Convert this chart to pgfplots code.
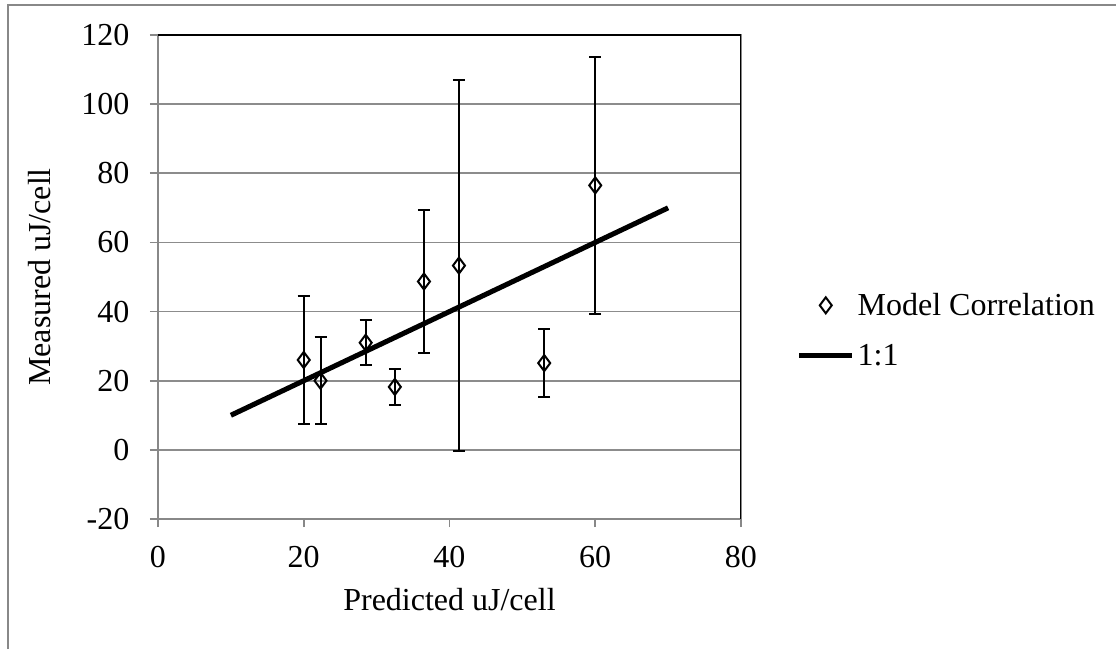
\documentclass[border=0pt]{standalone}
\usepackage{pgfplots}
\pgfplotsset{compat=1.18}
\usepackage{fontspec}
\setmainfont{Liberation Serif}
\definecolor{axgray}{HTML}{888888}
\definecolor{gridgray}{HTML}{8C8C8C}
\pgfplotsset{
  diamleg/.style={legend image code/.code={\draw[##1] plot coordinates {(20pt,0pt)};}},
}
\begin{document}
\begin{tikzpicture}
\begin{axis}[
  anchor=south west, at={(0pt,0pt)},
  scale only axis, width=437.25pt, height=363pt,
  xmin=0, xmax=80, ymin=-20, ymax=120,
  xtick={0,20,...,80}, ytick={-20,0,...,120},
  ymajorgrids, grid style={gridgray,line width=1.2pt},
  axis line style={axgray,line width=1.5pt},
  tick style={axgray,line width=1.2pt},
  tick align=outside, major tick length=6pt,
  xtick pos=left, ytick pos=left,
  /pgf/number format/assume math mode=true,
  ticklabel style={font=\fontsize{24}{28}\selectfont},
  xticklabel style={yshift=-11pt},
  yticklabel style={xshift=-12pt},
  label style={font=\fontsize{24}{28}\selectfont},
  xlabel={Predicted uJ/cell},
  ylabel={Measured uJ/cell},
  xlabel style={at={(axis description cs:0.5,-0.1674)}, anchor=center},
  ylabel style={at={(axis description cs:-0.2024,0.5)}, anchor=center},
  legend style={draw=none, fill=none, at={(rel axis cs:1.088,0.39)}, anchor=west,
    font=\fontsize{24}{28}\selectfont, row sep=16pt, legend cell align=left},
  legend image code/.code={\draw[#1] (0pt,0pt) -- (40pt,0pt);},
]
\addplot[only marks, mark=diamond, mark size=6pt, mark options={black,line width=1.5pt, fill=white},
  diamleg,
  error bars/.cd, y dir=both, y explicit,
  error bar style={black,line width=1.5pt},
  error mark options={rotate=90,mark size=4.5pt,line width=1.5pt,black}]
  table[x=x,y=y,y error=e] {
x    y     e
20   26    18.5
22.3 20    12.5
28.5 31    6.5
32.5 18.2  5.2
36.5 48.7  20.7
41.3 53.3  53.6
53   25.1  9.8
60   76.5  37.1
};
\addlegendentry{Model Correlation}
\addplot[black, line width=3.8pt] coordinates {(10,10) (70,70)};
\addlegendentry{1:1}
\draw[black,line width=1.5pt] (rel axis cs:0,1) -- (rel axis cs:1,1) -- (rel axis cs:1,0);
\end{axis}
\draw[axgray,line width=1.5pt] (-112.5pt,-97.5pt) -- (-112.5pt,385.5pt) -- (718.5pt,385.5pt);
\pgfresetboundingbox
\useasboundingbox (-118.5pt,-97.5pt) rectangle (718.5pt,389.25pt);
\end{tikzpicture}
\end{document}
